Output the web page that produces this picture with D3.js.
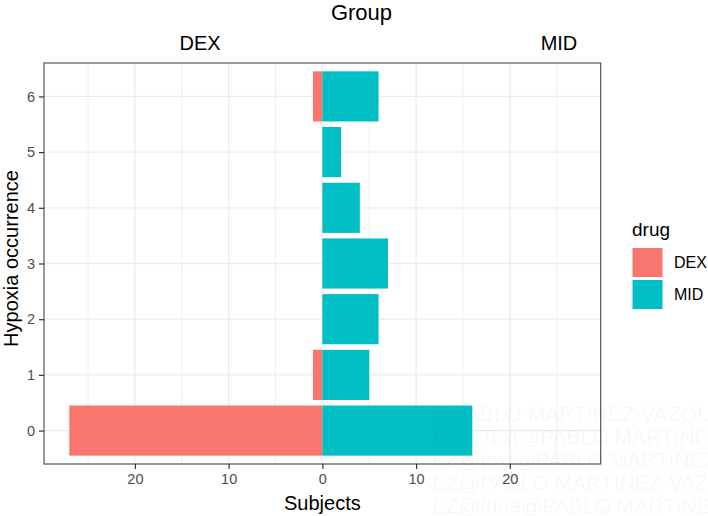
<!DOCTYPE html>
<html>
<head>
<meta charset="utf-8">
<script src="https://cdn.jsdelivr.net/npm/d3@7"></script>
<style>
  html, body { margin: 0; padding: 0; background: #fff; }
  svg { display: block; font-family: "Liberation Sans", Arial, sans-serif; }
</style>
</head>
<body>
<svg id="chart" width="708" height="516"></svg>
<script>
// ---- data ----
const categories = ["0", "1", "2", "3", "4", "5", "6"];
const dexValues = [27, 1, 0, 0, 0, 0, 1];
const midValues = [16, 5, 6, 7, 4, 2, 6];
const seriesNames = ["DEX", "MID"];
const seriesColors = ["#F8766D", "#00BFC4"];
const xTickValues = [-20, -10, 0, 10, 20];
const xMinorValues = [-25, -15, -5, 5, 15, 25];
const topLabels = ["DEX", "MID"];
const watermarkLines = [
  "@PABLO MARTINEZ-VAZQUEZ",
  "EZ@Text@PABLO MARTINEZ",
  "EZ@text@PABLO MARTINEZ",
  "EZ@PABLO MARTINEZ-VAZQUEZ",
  "EZ@Idea@PABLO MARTINEZ"
];

// ---- layout ----
const W = 708, H = 516;
const panel = { left: 44, right: 600.7, top: 63, bottom: 464 };
const svg = d3.select("#chart");

const maxAbs = d3.max([...dexValues, ...midValues]);
const pad = maxAbs * 2 * 0.05;
const x = d3.scaleLinear().domain([-maxAbs - pad, maxAbs + pad]).range([panel.left, panel.right]);
const yIdx = d3.scaleLinear().domain([0.4, categories.length + 0.6]).range([panel.bottom, panel.top]);
const yPos = c => yIdx(categories.indexOf(c) + 1);
const barH = Math.abs(yIdx(0.9) - yIdx(0));

// panel background
svg.append("rect").attr("x", panel.left).attr("y", panel.top)
  .attr("width", panel.right - panel.left).attr("height", panel.bottom - panel.top)
  .attr("fill", "#fff");

// grid
const grid = svg.append("g");
grid.selectAll(".minor").data(xMinorValues).join("line")
  .attr("x1", d => x(d)).attr("x2", d => x(d))
  .attr("y1", panel.top).attr("y2", panel.bottom)
  .attr("stroke", "#EBEBEB").attr("stroke-width", 0.8);
grid.selectAll(".majorx").data(xTickValues).join("line")
  .attr("x1", d => x(d)).attr("x2", d => x(d))
  .attr("y1", panel.top).attr("y2", panel.bottom)
  .attr("stroke", "#EBEBEB").attr("stroke-width", 1.3);
grid.selectAll(".majory").data(categories).join("line")
  .attr("x1", panel.left).attr("x2", panel.right)
  .attr("y1", d => yPos(d)).attr("y2", d => yPos(d))
  .attr("stroke", "#EBEBEB").attr("stroke-width", 1.3);

// bars
const rows = categories.map((c, i) => ({ c, dex: dexValues[i], mid: midValues[i] }));
svg.append("g").selectAll("rect").data(rows.filter(r => r.dex > 0)).join("rect")
  .attr("x", d => x(-d.dex)).attr("width", d => x(0) - x(-d.dex))
  .attr("y", d => yPos(d.c) - barH / 2).attr("height", barH)
  .attr("fill", seriesColors[0]);
svg.append("g").selectAll("rect").data(rows.filter(r => r.mid > 0)).join("rect")
  .attr("x", x(0)).attr("width", d => x(d.mid) - x(0))
  .attr("y", d => yPos(d.c) - barH / 2).attr("height", barH)
  .attr("fill", seriesColors[1]);

// panel border
svg.append("rect").attr("x", panel.left).attr("y", panel.top)
  .attr("width", panel.right - panel.left).attr("height", panel.bottom - panel.top)
  .attr("fill", "none").attr("stroke", "#555").attr("stroke-width", 1.2);

// x axis
const xAxis = d3.axisBottom(x).tickValues(xTickValues).tickFormat(d => Math.abs(d)).tickSize(5).tickPadding(5);
const gx = svg.append("g").attr("transform", `translate(0,${panel.bottom})`).call(xAxis);
gx.select(".domain").remove();
gx.selectAll(".tick line").attr("stroke", "#333").attr("stroke-width", 1.2);
gx.selectAll(".tick text").attr("fill", "#4D4D4D").attr("font-size", 14.5)
  .attr("font-family", "Liberation Sans, Arial, sans-serif");

// y axis
const yAxis = d3.axisLeft(yIdx).tickValues(d3.range(1, categories.length + 1))
  .tickFormat(i => categories[i - 1]).tickSize(5).tickPadding(4);
const gy = svg.append("g").attr("transform", `translate(${panel.left},0)`).call(yAxis);
gy.select(".domain").remove();
gy.selectAll(".tick line").attr("stroke", "#333").attr("stroke-width", 1.2);
gy.selectAll(".tick text").attr("fill", "#4D4D4D").attr("font-size", 14.5)
  .attr("font-family", "Liberation Sans, Arial, sans-serif");

// axis titles
svg.append("text").attr("x", x(0)).attr("y", 510).attr("text-anchor", "middle")
  .attr("font-size", 20).attr("fill", "#000").text("Subjects");
svg.append("text").attr("transform", `translate(18,${(panel.top + panel.bottom) / 2 - 5}) rotate(-90)`)
  .attr("text-anchor", "middle").attr("font-size", 20).attr("fill", "#000").text("Hypoxia occurrence");

// top titles
svg.append("text").attr("x", 361.5).attr("y", 20).attr("text-anchor", "middle")
  .attr("font-size", 22).attr("fill", "#000").text("Group");
const topX = [200, 559];
svg.selectAll(".toplab").data(topLabels).join("text")
  .attr("x", (d, i) => topX[i]).attr("y", 50).attr("text-anchor", "middle")
  .attr("font-size", 20).attr("fill", "#000").text(d => d);

// legend
const lg = svg.append("g").attr("transform", "translate(632,0)");
lg.append("text").attr("x", 0).attr("y", 236).attr("font-size", 19).attr("fill", "#000").text("drug");
const keyTop = 246.5, keyH = 32, keyW = 31;
seriesNames.forEach((s, i) => {
  lg.append("rect").attr("x", 0.5).attr("y", keyTop + i * keyH + 1.5)
    .attr("width", keyW - 1).attr("height", keyH - 3).attr("fill", seriesColors[i]);
  lg.append("text").attr("x", 42).attr("y", keyTop + i * keyH + keyH / 2)
    .attr("dy", "0.36em").attr("font-size", 16).attr("fill", "#000").text(s);
});

// faint watermark
const wm = svg.append("g").attr("pointer-events", "none");
wm.selectAll("text").data(watermarkLines).join("text")
  .attr("x", 432).attr("y", (d, i) => 421 + i * 23)
  .attr("font-size", 21).attr("fill", "#000").attr("fill-opacity", 0.045)
  .text(d => d);
</script>
</body>
</html>
